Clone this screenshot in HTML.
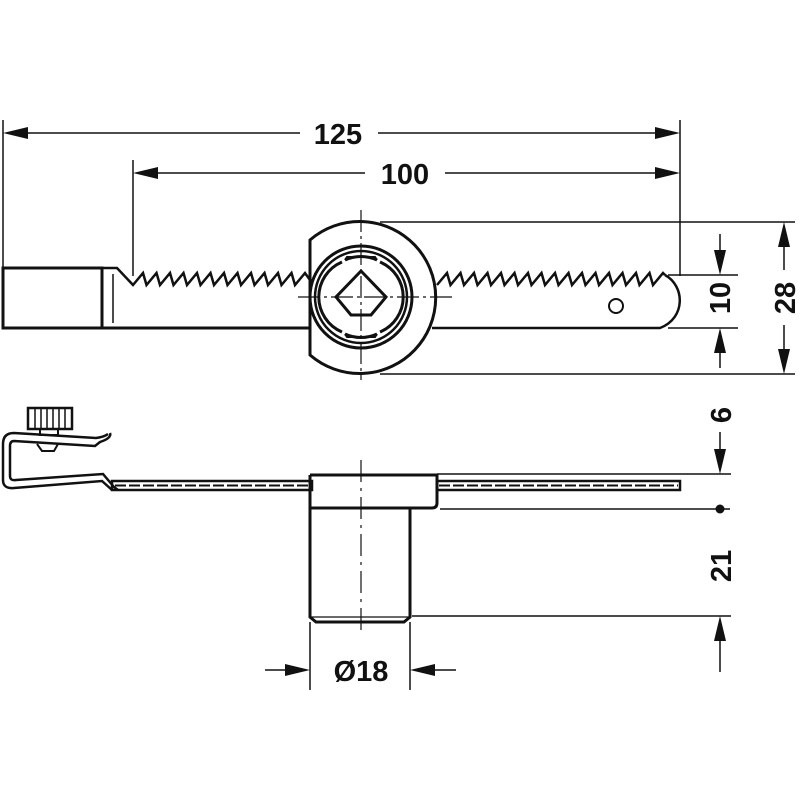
<!DOCTYPE html>
<html><head><meta charset="utf-8"><style>
html,body{margin:0;padding:0;background:#fff;}
svg{display:block;}
text{font-family:"Liberation Sans",sans-serif;font-weight:bold;font-size:29px;fill:#111;}
</style></head><body>
<svg width="800" height="800" viewBox="0 0 800 800" xmlns="http://www.w3.org/2000/svg">
<g stroke="#111" fill="none">
<!-- dimension 125 -->
<line x1="3" y1="120" x2="3" y2="270" stroke-width="1.5"/>
<line x1="680" y1="120" x2="680" y2="276" stroke-width="1.5"/>
<path d="M3,133 L28,127 L28,139 z" fill="#111" stroke="none"/>
<path d="M680,133 L655,127 L655,139 z" fill="#111" stroke="none"/>
<line x1="28" y1="133" x2="300" y2="133" stroke-width="1.5"/>
<line x1="378" y1="133" x2="655" y2="133" stroke-width="1.5"/>
<!-- dimension 100 -->
<line x1="133" y1="160" x2="133" y2="276" stroke-width="1.5"/>
<path d="M133,173 L158,167 L158,179 z" fill="#111" stroke="none"/>
<path d="M680,173 L655,167 L655,179 z" fill="#111" stroke="none"/>
<line x1="158" y1="173" x2="365" y2="173" stroke-width="1.5"/>
<line x1="445" y1="173" x2="655" y2="173" stroke-width="1.5"/>

<!-- top view rack -->
<rect x="3" y="268" width="99" height="60" stroke-width="3"/>
<line x1="113" y1="274" x2="113" y2="323" stroke-width="1.5"/>
<line x1="102" y1="328" x2="312" y2="328" stroke-width="3"/>
<polyline stroke-width="2.5" points="102,268 117,268 133,285 143,273 146.5,285 156.5,273 160,285 170,273 173.5,285 183.5,273 187,285 197,273 200.5,285 210.5,273 214,285 224,273 227.5,285 237.5,273 241,285 251,273 254.5,285 264.5,273 268,285 278,273 281.5,285 291.5,273 295,285 305,273 310,280"/>
<polyline stroke-width="2.5" points="437,285 447,273 450.5,285 460.5,273 464,285 474,273 477.5,285 487.5,273 491,285 501,273 504.5,285 514.5,273 518,285 528,273 531.5,285 541.5,273 545,285 555,273 558.5,285 568.5,273 572,285 582,273 585.5,285 595.5,273 599,285 609,273 612.5,285 622.5,273 626,285 636,273 639.5,285 649.5,273 653,285 663,273 665,275"/>
<path d="M665,275 C685,286 686,318 660,328 L432,328" stroke-width="2.5"/>
<circle cx="616" cy="306" r="7" stroke-width="2"/>

<!-- cam top view -->
<path d="M310,240 A76,76 0 1 1 310,355 Z" stroke-width="3" fill="#fff"/>
<circle cx="361" cy="297" r="51" stroke-width="3"/>
<circle cx="361" cy="297" r="46" stroke-width="2.5"/>
<path d="M345,260 A38,38 0 0 1 377,260 M380,262 A38,38 0 0 1 380,332 M377,334 A38,38 0 0 1 345,334 M342,332 A38,38 0 0 1 342,262" stroke-width="3"/>
<path d="M345,260 L347,257 L375,257 L377,260 M345,334 L347,337 L375,337 L377,334" stroke-width="2"/>
<path d="M361,271 L386,297 L371,315 L351,315 L336,297 Z" stroke-width="3"/>
<line x1="298" y1="297" x2="452" y2="297" stroke-width="1.2" stroke-dasharray="22,4,3,4"/>
<line x1="361" y1="210" x2="361" y2="380" stroke-width="1.2" stroke-dasharray="22,4,3,4"/>

<!-- 10 & 28 dims -->
<line x1="380" y1="222" x2="795" y2="222" stroke-width="1.5"/>
<line x1="380" y1="374" x2="795" y2="374" stroke-width="1.5"/>
<line x1="668" y1="275" x2="738" y2="275" stroke-width="1.5"/>
<line x1="668" y1="328" x2="738" y2="328" stroke-width="1.5"/>
<line x1="720" y1="234" x2="720" y2="252" stroke-width="1.5"/>
<path d="M720,275 L714,250 L726,250 z" fill="#111" stroke="none"/>
<line x1="720" y1="352" x2="720" y2="368" stroke-width="1.5"/>
<path d="M720,328 L714,353 L726,353 z" fill="#111" stroke="none"/>
<line x1="784" y1="245" x2="784" y2="270" stroke-width="1.5"/>
<line x1="784" y1="325" x2="784" y2="352" stroke-width="1.5"/>
<path d="M784,222 L778,247 L790,247 z" fill="#111" stroke="none"/>
<path d="M784,374 L778,349 L790,349 z" fill="#111" stroke="none"/>

<!-- side view clip -->
<rect x="28" y="408" width="44" height="21" stroke-width="2.5"/>
<path d="M35,408 v21 M41,408 v21 M47,408 v21 M53,408 v21 M59,408 v21 M65,408 v21" stroke-width="1.5"/>
<rect x="40" y="429" width="18" height="6" stroke-width="2"/>
<path d="M37,444 L42,451 L54,451 L58,444" stroke-width="2"/>
<path d="M110,433 Q112,438 100,442 L95,446 L14,441 Q10,441 10,446 L10,476 Q10,481 16,480 L103,474 L114,487 L118,490" stroke-width="2.5"/>
<path d="M108,434 Q104,437 96,438 L14,433 Q3,433 3,444 L3,480 Q3,489 14,488 L102,481 L112,490" stroke-width="2.5"/>
<rect x="112" y="481" width="200" height="9" stroke-width="2.5"/>
<line x1="115" y1="485.5" x2="310" y2="485.5" stroke-width="2" stroke-dasharray="11,3"/>
<rect x="437" y="481" width="243" height="9" stroke-width="2.5"/>
<line x1="439" y1="485.5" x2="678" y2="485.5" stroke-width="2" stroke-dasharray="11,3"/>

<!-- cam side -->
<path d="M310,475 L437,475 L437,503 Q437,508 432,508 L410,508" stroke-width="3"/>
<path d="M310,475 L310,617 L316,622 L404,622 L410,617 L410,508 M310,508 L410,508" stroke-width="3"/>
<line x1="361" y1="460" x2="361" y2="630" stroke-width="1.2" stroke-dasharray="22,6,3,6"/>
<line x1="310" y1="617" x2="410" y2="617" stroke-width="1.2"/>

<!-- 6, 21 dims -->
<line x1="437" y1="474" x2="731" y2="474" stroke-width="1.5"/>
<line x1="440" y1="509" x2="730" y2="509" stroke-width="1.5"/>
<circle cx="720" cy="509" r="4.5" fill="#111" stroke="none"/>
<line x1="412" y1="616" x2="731" y2="616" stroke-width="1.5"/>
<line x1="720" y1="432" x2="720" y2="452" stroke-width="1.5"/>
<path d="M720,474 L714,449 L726,449 z" fill="#111" stroke="none"/>
<line x1="720" y1="638" x2="720" y2="672" stroke-width="1.5"/>
<path d="M720,616 L714,641 L726,641 z" fill="#111" stroke="none"/>

<!-- Ø18 -->
<line x1="310" y1="622" x2="310" y2="690" stroke-width="1.5"/>
<line x1="410" y1="622" x2="410" y2="690" stroke-width="1.5"/>
<line x1="265" y1="670" x2="287" y2="670" stroke-width="1.5"/>
<path d="M310,670 L285,664 L285,676 z" fill="#111" stroke="none"/>
<line x1="433" y1="670" x2="456" y2="670" stroke-width="1.5"/>
<path d="M410,670 L435,664 L435,676 z" fill="#111" stroke="none"/>
</g>
<text x="338" y="144" text-anchor="middle">125</text>
<text x="405" y="184" text-anchor="middle">100</text>
<text x="361" y="681" text-anchor="middle">Ø18</text>
<text transform="translate(730,298) rotate(-90)" text-anchor="middle">10</text>
<text transform="translate(795,298) rotate(-90)" text-anchor="middle">28</text>
<text transform="translate(731,415) rotate(-90)" text-anchor="middle">6</text>
<text transform="translate(731,566) rotate(-90)" text-anchor="middle">21</text>
</svg>
</body></html>
